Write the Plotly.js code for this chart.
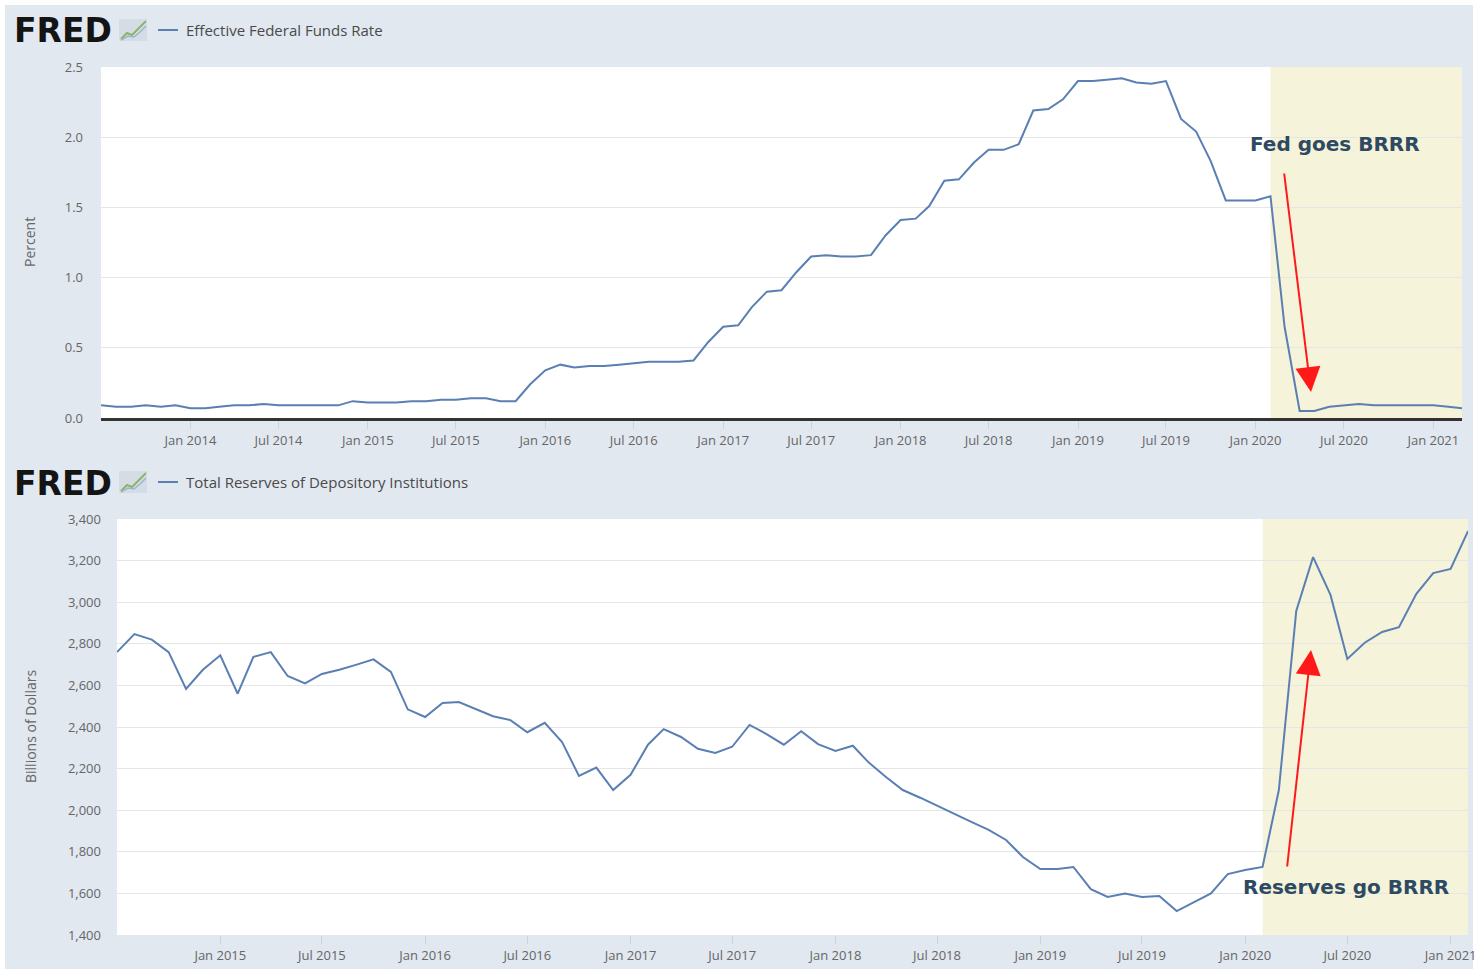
<!DOCTYPE html>
<html>
<head>
<meta charset="utf-8">
<script src="https://cdn.plot.ly/plotly-3.0.1.min.js"></script>
<style>html,body{margin:0;padding:0;background:#fff;}#chart{width:1478px;height:969px;}</style>
</head>
<body>
<div id="chart"></div>
<script>
// ---- Data ----
const fedStart = [2013, 7];
const fedValues = [
  0.09,0.08,0.08,0.09,0.08,0.09,
  0.07,0.07,0.08,0.09,0.09,0.10,0.09,0.09,0.09,0.09,0.09,0.12,
  0.11,0.11,0.11,0.12,0.12,0.13,0.13,0.14,0.14,0.12,0.12,0.24,
  0.34,0.38,0.36,0.37,0.37,0.38,0.39,0.40,0.40,0.40,0.41,0.54,
  0.65,0.66,0.79,0.90,0.91,1.04,1.15,1.16,1.15,1.15,1.16,1.30,
  1.41,1.42,1.51,1.69,1.70,1.82,1.91,1.91,1.95,2.19,2.20,2.27,
  2.40,2.40,2.41,2.42,2.39,2.38,2.40,2.13,2.04,1.83,1.55,1.55,
  1.55,1.58,0.65,0.05,0.05,0.08,0.09,0.10,0.09,0.09,0.09,0.09,
  0.09,0.08,0.07
];
const resStart = [2014, 7];
const resValues = [
  2760,2847,2820,2760,2583,2675,2745,2560,2737,2760,
  2645,2610,2655,2675,2700,2725,2665,2485,2448,2515,
  2520,2485,2452,2433,2375,2420,2328,2165,2205,2097,
  2170,2315,2390,2352,2295,2275,2305,2410,2365,2315,
  2380,2318,2285,2310,2230,2160,2097,2060,2020,1982,
  1943,1905,1857,1775,1717,1717,1727,1620,1583,1600,
  1583,1588,1515,1555,1600,1693,1712,1727,2097,2958,
  3217,3035,2727,2805,2857,2880,3040,3140,3160,3342
];
const fedTickVals = ["2014-01-01","2014-07-01","2015-01-01","2015-07-01","2016-01-01","2016-07-01",
  "2017-01-01","2017-07-01","2018-01-01","2018-07-01","2019-01-01","2019-07-01","2020-01-01",
  "2020-07-01","2021-01-01"];
const resTickVals = ["2015-01-01","2015-07-01","2016-01-01","2016-07-01","2017-01-01","2017-07-01",
  "2018-01-01","2018-07-01","2019-01-01","2019-07-01","2020-01-01","2020-07-01","2021-01-01"];
const fedTitle = "Effective Federal Funds Rate";
const resTitle = "Total Reserves of Depository Institutions";
const fedYLabel = "Percent";
const resYLabel = "Billions of Dollars";
const fedNote = "Fed goes BRRR";
const resNote = "Reserves go BRRR";
const shadeStart = "2020-02-01";

function months(start, n) {
  const out = [];
  let y = start[0], m = start[1];
  for (let i = 0; i < n; i++) {
    out.push(y + "-" + String(m).padStart(2, "0") + "-01");
    m++; if (m > 12) { m = 1; y++; }
  }
  return out;
}
const fedDates = months(fedStart, fedValues.length);
const resDates = months(resStart, resValues.length);

// ---- Helpers: pixel -> paper ----
const W = 1478, H = 969;
const px = x => x / W;
const py = y => 1 - y / H;

const lineColor = "#5a7fb3";
const tickFont = {family: "Open Sans, sans-serif", size: 13, color: "#666666"};
const panelColor = "#e1e8f0";
const shadeColor = "#f5f3da";

const traces = [
  {x: fedDates, y: fedValues, xaxis: "x", yaxis: "y", type: "scatter", mode: "lines",
   line: {color: lineColor, width: 2}, hoverinfo: "skip"},
  {x: resDates, y: resValues, xaxis: "x2", yaxis: "y2", type: "scatter", mode: "lines",
   line: {color: lineColor, width: 2}, hoverinfo: "skip"}
];

function iconShapes(cy) {
  return [
    {type: "rect", xref: "paper", yref: "paper", x0: px(119), x1: px(147), y0: py(cy + 11), y1: py(cy - 11),
     fillcolor: "#d4dde6", line: {width: 0}, layer: "below"},
    {type: "path", xref: "paper", yref: "paper", layer: "below",
     path: `M ${px(121)} ${py(cy + 9)} L ${px(127)} ${py(cy + 3)} L ${px(132)} ${py(cy + 5)} L ${px(139)} ${py(cy - 2)} L ${px(146)} ${py(cy - 9)}`,
     line: {color: "#8db56a", width: 2}},
    {type: "path", xref: "paper", yref: "paper", layer: "below",
     path: `M ${px(121)} ${py(cy + 10)} L ${px(128)} ${py(cy + 6)} L ${px(134)} ${py(cy + 7)} L ${px(140)} ${py(cy + 2)} L ${px(146)} ${py(cy - 4)}`,
     line: {color: "#9fb4cc", width: 1.5}}
  ];
}

const shapes = [
  {type: "rect", xref: "paper", yref: "paper", x0: px(5), x1: px(1473), y0: 0, y1: py(5),
   fillcolor: panelColor, line: {width: 0}, layer: "below"},
  {type: "rect", xref: "paper", yref: "paper", x0: px(101), x1: px(1462), y0: py(418), y1: py(67),
   fillcolor: "#ffffff", line: {width: 0}, layer: "below"},
  {type: "rect", xref: "paper", yref: "paper", x0: px(117), x1: px(1468), y0: py(935), y1: py(519),
   fillcolor: "#ffffff", line: {width: 0}, layer: "below"},
  {type: "rect", xref: "x", yref: "y domain", x0: shadeStart, x1: fedDates[fedDates.length - 1], y0: 0, y1: 1,
   fillcolor: shadeColor, line: {width: 0}, layer: "below"},
  {type: "rect", xref: "x2", yref: "y2 domain", x0: shadeStart, x1: resDates[resDates.length - 1], y0: 0, y1: 1,
   fillcolor: shadeColor, line: {width: 0}, layer: "below"},
  {type: "line", xref: "paper", yref: "paper", x0: px(158), x1: px(178), y0: py(30), y1: py(30),
   line: {color: lineColor, width: 2}},
  {type: "line", xref: "paper", yref: "paper", x0: px(158), x1: px(178), y0: py(482), y1: py(482),
   line: {color: lineColor, width: 2}}
].concat(iconShapes(30), iconShapes(482));

const logoFont = {family: "DejaVu Sans, sans-serif", size: 33, color: "#141414"};
const legFont = {family: "Open Sans, sans-serif", size: 15, color: "#4a4a4a"};
const noteFont = {family: "DejaVu Sans, sans-serif", size: 20, color: "#2e4a62"};
const axTitleFont = {family: "Open Sans, sans-serif", size: 14, color: "#666666"};

const annotations = [
  {xref: "paper", yref: "paper", x: px(12), y: py(31), xanchor: "left", yanchor: "middle",
   text: "<b>FRED</b>", showarrow: false, font: logoFont},
  {xref: "paper", yref: "paper", x: px(184), y: py(30), xanchor: "left", yanchor: "middle",
   text: fedTitle, showarrow: false, font: legFont},
  {xref: "paper", yref: "paper", x: px(12), y: py(483), xanchor: "left", yanchor: "middle",
   text: "<b>FRED</b>", showarrow: false, font: logoFont},
  {xref: "paper", yref: "paper", x: px(184), y: py(482), xanchor: "left", yanchor: "middle",
   text: resTitle, showarrow: false, font: legFont},
  {xref: "paper", yref: "paper", x: px(30), y: py(242), xanchor: "center", yanchor: "middle",
   text: fedYLabel, textangle: -90, showarrow: false, font: axTitleFont},
  {xref: "paper", yref: "paper", x: px(30), y: py(727), xanchor: "center", yanchor: "middle",
   text: resYLabel, textangle: -90, showarrow: false, font: axTitleFont},
  {xref: "paper", yref: "paper", x: px(1335), y: py(144), xanchor: "center", yanchor: "middle",
   text: "<b>" + fedNote + "</b>", showarrow: false, font: noteFont},
  {xref: "paper", yref: "paper", x: px(1346), y: py(887), xanchor: "center", yanchor: "middle",
   text: "<b>" + resNote + "</b>", showarrow: false, font: noteFont},
  {xref: "paper", yref: "paper", x: px(1311), y: py(392), text: "", showarrow: true,
   ax: -27, ay: -220, arrowhead: 2, arrowsize: 2.5, arrowwidth: 2, arrowcolor: "#ff1a1a", standoff: 0},
  {xref: "paper", yref: "paper", x: px(1311), y: py(650), text: "", showarrow: true,
   ax: -24, ay: 218, arrowhead: 2, arrowsize: 2.5, arrowwidth: 2, arrowcolor: "#ff1a1a", standoff: 0}
];

const xCommon = {
  type: "date", tickformat: "%b %Y",
  ticks: "outside", ticklen: 8, tickcolor: "#cbd4dd", tickwidth: 1,
  showgrid: false, zeroline: false, tickfont: tickFont, fixedrange: true
};

const layout = {
  width: W, height: H,
  margin: {l: 0, r: 0, t: 0, b: 0},
  paper_bgcolor: "#ffffff",
  plot_bgcolor: "rgba(0,0,0,0)",
  showlegend: false,
  xaxis: Object.assign({}, xCommon, {
    domain: [px(101), px(1462)], range: ["2013-07-01", "2021-03-01"], anchor: "y",
    tickmode: "array", tickvals: fedTickVals,
    showline: true, linecolor: "#333333", linewidth: 3
  }),
  yaxis: {
    domain: [py(418), py(67)], range: [0, 2.5], dtick: 0.5, tick0: 0, tickformat: ".1f",
    gridcolor: "#e6e6e6", zeroline: false, showline: false, tickfont: tickFont,
    ticklabelstandoff: 17, anchor: "x", fixedrange: true
  },
  xaxis2: Object.assign({}, xCommon, {
    domain: [px(117), px(1468)], range: ["2014-07-01", "2021-02-01"], anchor: "y2",
    tickmode: "array", tickvals: resTickVals,
    showline: false
  }),
  yaxis2: {
    domain: [py(935), py(519)], range: [1400, 3400], dtick: 200, tick0: 1400, tickformat: ",",
    gridcolor: "#e6e6e6", zeroline: false, showline: false, tickfont: tickFont,
    ticklabelstandoff: 15, anchor: "x2", fixedrange: true
  },
  shapes: shapes,
  annotations: annotations
};

Plotly.newPlot("chart", traces, layout, {displayModeBar: false, staticPlot: true});
</script>
</body>
</html>
